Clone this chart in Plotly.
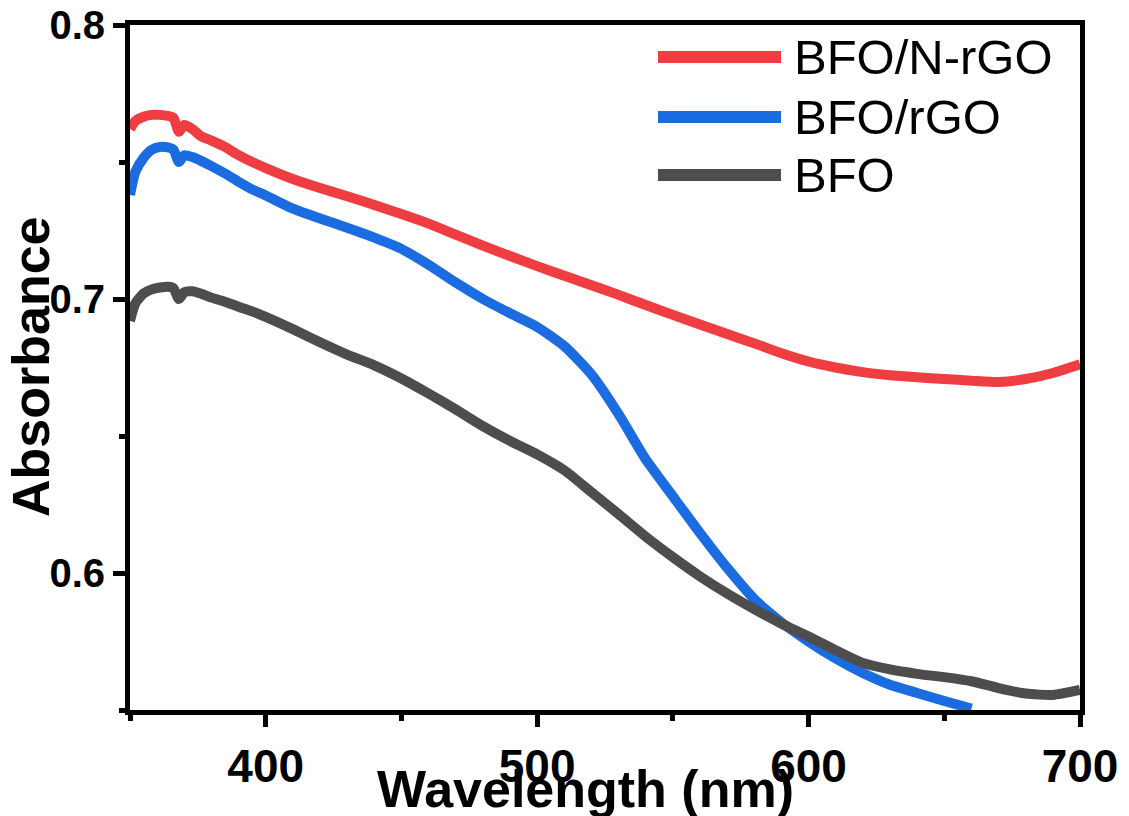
import plotly.graph_objects as go

wavelength = [350, 352, 355, 358, 361, 364, 366, 368, 370, 373, 376, 380, 385, 390, 395,
              400, 410, 420, 430, 440, 450, 460, 470, 480, 490, 500, 510, 520, 530, 540,
              550, 560, 570, 580, 590, 600, 610, 620, 630, 640, 650, 660, 670, 680, 690, 700]

bfo_nrgo = [0.762, 0.765, 0.7665, 0.7672, 0.7672, 0.7668, 0.7662, 0.761, 0.7635, 0.762,
            0.7595, 0.7578, 0.7555, 0.7525, 0.7500, 0.7478, 0.7438, 0.7405, 0.7375, 0.7343,
            0.7310, 0.7275, 0.7235, 0.7195, 0.7157, 0.7120, 0.7085, 0.7050, 0.7015, 0.6978,
            0.6942, 0.6907, 0.6872, 0.6838, 0.6802, 0.6772, 0.6750, 0.6733, 0.6722, 0.6714,
            0.6708, 0.6702, 0.6697, 0.6708, 0.6730, 0.6762]

bfo_rgo = [0.738, 0.7465, 0.7515, 0.7545, 0.7555, 0.7553, 0.7545, 0.750, 0.7525, 0.7518,
           0.7505, 0.7485, 0.7458, 0.7428, 0.7400, 0.7378, 0.7330, 0.7294, 0.7260, 0.7224,
           0.7183, 0.7125, 0.7060, 0.7000, 0.6948, 0.6898, 0.6828, 0.6725, 0.6580, 0.6415,
           0.6280, 0.6146, 0.6019, 0.5905, 0.5820, 0.5750, 0.5688, 0.5635, 0.5592, 0.5562,
           0.5533, 0.5505, None, None, None, None]

bfo = [0.692, 0.6985, 0.702, 0.7035, 0.7042, 0.7045, 0.704, 0.700, 0.7025, 0.7028,
       0.702, 0.7005, 0.6990, 0.6972, 0.6955, 0.6935, 0.6890, 0.6842, 0.6797, 0.6758,
       0.6710, 0.6655, 0.6597, 0.6536, 0.6482, 0.6433, 0.6375, 0.6295, 0.6215, 0.6133,
       0.6058, 0.5988, 0.5925, 0.5868, 0.5815, 0.5768, 0.5718, 0.5672, 0.5648, 0.5632,
       0.5620, 0.5605, 0.5580, 0.5560, 0.5555, 0.5573]

series_names = ["BFO/N-rGO", "BFO/rGO", "BFO"]
series_colors = ["#EF3E42", "#1A6CE0", "#4D4D4D"]
series_values = [bfo_nrgo, bfo_rgo, bfo]

x_ticks = [400, 500, 600, 700]
y_ticks = [0.6, 0.7, 0.8]

FONT = "Arial, Liberation Sans, Helvetica, sans-serif"

# the page body adds an 8px offset; figure sized to fit the window
OFF = 8
W, H = 1129 - OFF, 816 - OFF
# target plot area in page pixels: x 130..1080, y 25..710
L, T = 130 - OFF, 25 - OFF
R, B = W - (1080 - OFF), H - (710 - OFF)
PW, PH = W - L - R, H - T - B


def px_x(p):
    return (p - OFF - L) / PW


def px_y(p):
    return (H - B - (p - OFF)) / PH


fig = go.Figure()
for name, color, vals in zip(series_names, series_colors, series_values):
    fig.add_trace(go.Scatter(x=wavelength, y=vals, mode="lines", name=name,
                             line=dict(color=color, width=10, shape="spline", smoothing=0.6),
                             showlegend=False, connectgaps=False))

# manual legend (long sample lines as in the reference)
leg_py = [57, 117, 175]
for name, color, p in zip(series_names, series_colors, leg_py):
    yy = px_y(p)
    fig.add_shape(type="line", xref="paper", yref="paper",
                  x0=px_x(658), x1=px_x(781), y0=yy, y1=yy,
                  line=dict(color=color, width=12))
    fig.add_annotation(xref="paper", yref="paper", x=px_x(792), y=yy,
                       text=name, showarrow=False, xanchor="left", yanchor="middle",
                       font=dict(family=FONT, size=49, color="black"))

# axis titles
fig.add_annotation(xref="paper", yref="paper", x=px_x(585), y=px_y(789),
                   text="<b>Wavelength (nm)</b>", showarrow=False,
                   xanchor="center", yanchor="middle",
                   font=dict(family=FONT, size=52, color="black"))
fig.add_annotation(xref="paper", yref="paper", x=px_x(31), y=px_y(367),
                   text="<b>Absorbance</b>", showarrow=False, textangle=-90,
                   xanchor="center", yanchor="middle",
                   font=dict(family=FONT, size=52, color="black"))

fig.update_layout(
    width=W, height=H,
    margin=dict(l=L, r=R, t=T, b=B),
    paper_bgcolor="white", plot_bgcolor="white",
    font=dict(family=FONT, color="black"),
)

fig.update_xaxes(
    range=[350, 700], tickvals=x_ticks, ticktext=[f"<b>{v}</b>" for v in x_ticks],
    showgrid=False, zeroline=False, showline=True, linecolor="black", linewidth=5,
    mirror=True, ticks="outside", ticklen=12, tickwidth=5, tickcolor="black",
    tickfont=dict(family=FONT, size=46, color="black"), automargin=False,
    ticklabeloverflow="allow",
    minor=dict(ticks="outside", ticklen=6, tickwidth=5, tickcolor="black",
               tickvals=[350, 450, 550, 650]),
)
fig.update_yaxes(
    range=[0.55, 0.8], tickvals=y_ticks, ticktext=[f"<b>{v}</b>" for v in y_ticks],
    showgrid=False, zeroline=False, showline=True, linecolor="black", linewidth=5,
    mirror=True, ticks="outside", ticklen=12, tickwidth=5, tickcolor="black",
    tickfont=dict(family=FONT, size=40, color="black"), automargin=False,
    ticklabeloverflow="allow",
    minor=dict(ticks="outside", ticklen=6, tickwidth=5, tickcolor="black",
               tickvals=[0.55, 0.65, 0.75]),
)

fig.write_html("out.html")
